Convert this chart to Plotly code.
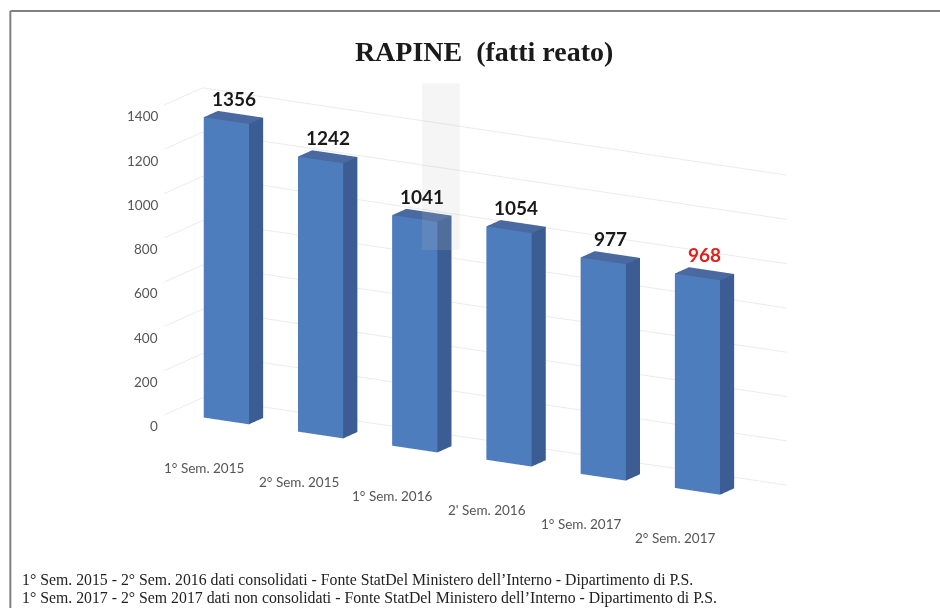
import math
import plotly.graph_objects as go

# Data
categories = ["1° Sem. 2015", "2° Sem. 2015", "1° Sem. 2016",
              "2' Sem. 2016", "1° Sem. 2017", "2° Sem. 2017"]
values = [1356, 1242, 1041, 1054, 977, 968]
label_colors = ["#1a1a1a", "#1a1a1a", "#1a1a1a", "#1a1a1a", "#1a1a1a", "#e3201b"]
z_ticks = [0, 200, 400, 600, 800, 1000, 1200, 1400]
footnotes = [
    "1° Sem. 2015 - 2° Sem. 2016 dati consolidati - Fonte StatDel Ministero dell’Interno - Dipartimento di P.S.",
    "1° Sem. 2017 - 2° Sem 2017 dati non consolidati - Fonte StatDel Ministero dell’Interno - Dipartimento di P.S.",
]

FRONT = "#4e7dbd"
SIDE = "#3c5d93"
TOP = "#4969a0"
DARK = "#2f4a78"

HALF_W = 0.24
DEPTH = 0.26
X_RANGE = [-0.6, 5.6]
Y_RANGE = [-0.1, 0.6]
Z_RANGE = [0, 1400]

# triangle index lists for a box: bottom, top, front, back, left, right
I = [0, 0, 4, 4, 0, 0, 3, 3, 0, 0, 1, 1]
J = [1, 2, 5, 6, 1, 5, 2, 6, 3, 7, 2, 6]
K = [2, 3, 6, 7, 5, 4, 6, 7, 7, 4, 6, 5]
FACE_COLORS = [DARK, DARK, TOP, TOP, FRONT, FRONT, DARK, DARK, FRONT, FRONT, SIDE, SIDE]

fig = go.Figure()
for idx, v in enumerate(values):
    x0, x1 = idx - HALF_W, idx + HALF_W
    y0, y1 = 0.0, DEPTH
    fig.add_trace(go.Mesh3d(
        x=[x0, x1, x1, x0, x0, x1, x1, x0],
        y=[y0, y0, y1, y1, y0, y0, y1, y1],
        z=[0, 0, 0, 0, v, v, v, v],
        i=I, j=J, k=K,
        facecolor=FACE_COLORS, flatshading=True,
        lighting=dict(ambient=1.0, diffuse=0.0, specular=0.0, roughness=1.0, fresnel=0.0),
        hoverinfo="skip", showscale=False,
    ))

label_font = dict(family="Lato, Open Sans, sans-serif", size=19)
tick_font = dict(family="Lato, Open Sans, sans-serif", size=13.5, color="#555555")

scene_annotations = [
    dict(x=i, y=DEPTH / 2, z=v, text=f"<b>{v}</b>", showarrow=False, yshift=19,
         font=dict(label_font, color=c))
    for i, (v, c) in enumerate(zip(values, label_colors))
]
scene_annotations += [
    dict(x=i, y=0, z=0, text=cat, showarrow=False, xshift=-22, yshift=-47, font=tick_font)
    for i, cat in enumerate(categories)
]
scene_annotations += [
    dict(x=X_RANGE[0], y=0, z=t, text=str(t), showarrow=False, xanchor="right", xshift=-10,
         yshift=-14, font=tick_font)
    for t in z_ticks
]

# physical box proportions (x units, depth units, height units)
phys = [X_RANGE[1] - X_RANGE[0], Y_RANGE[1] - Y_RANGE[0], 2.95]
norm = phys[0] / 2.92
theta, phi, dist = math.radians(30), math.radians(15), 2.0
eye = dict(x=dist * math.sin(theta) * math.cos(phi),
           y=-dist * math.cos(theta) * math.cos(phi),
           z=dist * math.sin(phi))

fig.update_layout(
    width=940, height=608,
    margin=dict(l=0, r=0, t=0, b=0),
    paper_bgcolor="white",
    showlegend=False,
    hovermode=False,
    title=dict(text="<b>RAPINE  (fatti reato)</b>", x=0.515, xanchor="center", y=0.915, yanchor="middle",
               font=dict(family="Liberation Serif, serif", size=28, color="#1a1a1a")),
    scene=dict(
        domain=dict(x=[0.066, 0.946], y=[0.135, 0.895]),
        xaxis=dict(range=X_RANGE, showgrid=False, showbackground=False, zeroline=False, showline=False,
                   showticklabels=False, title=dict(text=""), showspikes=False, ticks=""),
        yaxis=dict(range=Y_RANGE, showgrid=False, showbackground=False, zeroline=False,
                   showline=False, showticklabels=False, title=dict(text=""), showspikes=False, ticks=""),
        zaxis=dict(range=Z_RANGE, tickvals=z_ticks, gridcolor="#ebebeb", showbackground=False,
                   zeroline=False, showline=False, showticklabels=False, title=dict(text=""),
                   showspikes=False, ticks=""),
        aspectmode="manual",
        aspectratio=dict(x=phys[0] / norm, y=phys[1] / norm, z=phys[2] / norm),
        camera=dict(eye=eye, center=dict(x=0, y=0, z=0), projection=dict(type="orthographic")),
        annotations=scene_annotations,
    ),
)

# frame border on the top and left edges
fig.add_shape(type="line", xref="paper", yref="paper", x0=0.011, x1=1.0, y0=0.982, y1=0.982,
              line=dict(color="#808080", width=2))
fig.add_shape(type="line", xref="paper", yref="paper", x0=0.011, x1=0.011, y0=0.0, y1=0.982,
              line=dict(color="#808080", width=2))
# pale grey panel over the chart area
fig.add_shape(type="rect", xref="paper", yref="paper", x0=0.449, x1=0.489, y0=0.589, y1=0.863,
              fillcolor="rgba(190,190,190,0.16)", line=dict(width=0), layer="above")

for n, text in enumerate(footnotes):
    fig.add_annotation(xref="paper", yref="paper", x=0.021, y=0.046 - n * 0.030, xanchor="left",
                       yanchor="middle", showarrow=False, text=text,
                       font=dict(family="Liberation Serif, serif", size=15.8, color="#222222"))

fig.write_html("out.html")
